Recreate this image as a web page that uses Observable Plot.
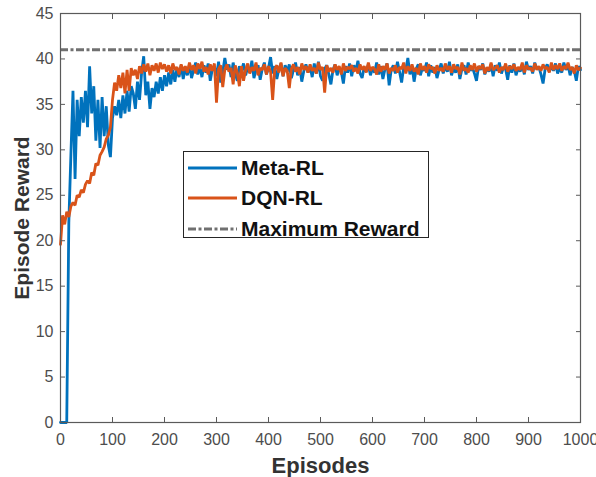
<!DOCTYPE html>
<html>
<head>
<meta charset="utf-8">
<script src="https://cdn.jsdelivr.net/npm/d3@7"></script>
<script src="https://cdn.jsdelivr.net/npm/@observablehq/plot@0.6"></script>
<style>
  body { margin: 0; background: #fff; }
  #chart { position: relative; width: 596px; height: 477px; }
  .legend {
    position: absolute; left: 183px; top: 151px; width: 246px; height: 87px;
    box-sizing: border-box; border: 1px solid #262626; background: #fff;
    font: bold 21px "Liberation Sans", Arial, sans-serif; color: #111;
  }
  .legend .row { position: absolute; left: 3px; height: 24px; display: flex; align-items: center; }
  .legend svg { width: 51px; height: 10px; margin-right: 3px; }
</style>
</head>
<body>
<div id="chart"></div>
<script>
// Episode axis: reward sampled every 4 episodes, 0..1000
const sampleStep = 4;
const xTicks = [0, 100, 200, 300, 400, 500, 600, 700, 800, 900, 1000];
const yTicks = [0, 5, 10, 15, 20, 25, 30, 35, 40, 45];
const maxReward = 41;

const seriesNames = ["Meta-RL", "DQN-RL", "Maximum Reward"];
const seriesColors = ["#0072BD", "#D95319", "#707070"];

const metaReward = [
  0, 0, 0, 0, 22.0, 29.5, 36.5, 26.8, 35.5, 31.5,
  35.8, 33.0, 36.5, 32.5, 39.2, 34.0, 37.0, 31.0, 35.5, 30.2,
  35.8, 31.5, 34.8, 30.5, 29.2, 33.5, 34.8, 33.8, 35.5, 33.5,
  36.0, 34.0, 36.5, 34.2, 37.0, 36.2, 34.5, 37.5, 35.5, 38.5,
  40.3, 36.0, 37.5, 34.5, 36.8, 35.8, 37.5, 36.2, 38.0, 36.5,
  38.2, 37.0, 38.5, 37.2, 38.8, 37.5, 39.0, 38.0, 39.3, 37.8,
  39.0, 38.2, 39.4, 37.9, 38.8, 39.6, 38.3, 39.1, 38.0, 39.3,
  38.5, 39.5, 37.6, 38.9, 39.2, 38.1, 39.7, 37.4, 38.6, 40.1,
  38.8, 39.4, 38.0, 39.6, 38.4, 37.6, 39.2, 38.7, 39.5, 38.2,
  39.1, 38.5, 39.8, 37.9, 38.8, 39.3, 37.7, 38.9, 39.6, 38.3,
  39.0, 40.2, 38.4, 39.2, 37.8, 38.9, 39.5, 38.1, 39.3, 38.6,
  39.4, 37.9, 38.8, 39.6, 38.2, 39.1, 37.5, 38.7, 39.4, 38.5,
  39.2, 38.0, 39.5, 38.4, 39.7, 38.1, 37.6, 38.9, 39.3, 38.3,
  37.2, 38.8, 39.4, 38.2, 39.0, 38.6, 37.3, 39.2, 38.5, 39.5,
  38.1, 39.3, 38.7, 39.8, 38.4, 37.9, 39.1, 38.6, 39.4, 38.2,
  39.0, 38.5, 39.6, 38.3, 39.2, 37.8, 38.9, 39.5, 37.1, 38.8,
  39.3, 38.4, 39.7, 38.6, 37.4, 39.1, 38.8, 40.1, 38.3, 39.2,
  37.5, 38.9, 39.4, 38.2, 39.0, 38.7, 39.6, 38.1, 39.3, 38.5,
  39.1, 37.9, 38.8, 39.5, 38.4, 39.2, 38.6, 39.7, 38.2, 39.0,
  38.5, 39.4, 37.8, 38.9, 39.3, 38.3, 39.6, 38.7, 39.1, 38.4,
  37.6, 39.2, 38.8, 39.5, 38.3, 39.0, 38.6, 39.4, 38.1, 39.3,
  38.7, 39.6, 38.4, 39.1, 38.9, 37.7, 39.3, 38.5, 39.5, 38.2,
  39.0, 38.6, 39.4, 38.3, 39.7, 38.8, 39.2, 38.4, 39.6, 38.9,
  39.1, 38.3, 37.3, 38.9, 39.4, 38.6, 39.2, 38.7, 39.5, 38.4,
  39.0, 38.5, 39.6, 38.8, 39.3, 38.2, 39.1, 38.7, 37.6, 39.2,
  38.8
];

const dqnReward = [
  19.6, 22.8, 21.8, 23.2, 22.6, 23.8, 24.2, 23.9, 25.0, 24.8,
  25.6, 25.3, 26.2, 26.6, 26.3, 27.5, 27.2, 28.5, 28.3, 29.4,
  29.8, 30.3, 31.2, 31.6, 32.5, 35.5, 37.4, 36.5, 38.2, 36.8,
  38.5, 36.2, 38.8, 36.5, 39.0, 38.2, 38.8, 37.8, 39.2, 38.4,
  39.4, 38.6, 39.5, 38.2, 39.3, 38.7, 39.5, 38.5, 39.6, 38.9,
  39.4, 38.6, 39.3, 38.4, 39.5, 38.8, 39.1, 38.3, 39.4, 38.7,
  39.2, 38.5, 39.6, 38.8, 39.3, 38.4, 39.5, 38.9, 39.7, 38.6,
  39.1, 38.3, 39.4, 38.7, 39.5, 35.2, 38.9, 39.3, 36.9, 38.8,
  39.4, 38.6, 39.0, 37.2, 39.3, 38.5, 37.0, 39.2, 37.6, 38.8,
  39.5, 38.4, 39.1, 38.7, 39.6, 38.2, 39.0, 38.8, 39.4, 38.3,
  39.2, 38.6, 35.5, 38.9, 39.3, 38.5, 39.6, 38.1, 39.0, 38.7,
  36.8, 38.9, 39.4, 38.6, 39.1, 38.3, 39.5, 38.8, 39.2, 38.5,
  39.4, 38.7, 39.0, 38.4, 39.6, 38.8, 39.1, 36.3, 39.3, 38.6,
  39.0, 38.5, 39.4, 38.8, 39.2, 38.3, 39.5, 38.7, 39.1, 38.9,
  39.3, 38.6, 39.0, 38.4, 39.4, 38.8, 39.2, 38.5, 39.6, 38.7,
  39.1, 38.9, 38.3, 39.4, 38.6, 39.2, 38.8, 39.5, 38.4, 39.0,
  38.7, 39.3, 38.5, 39.1, 38.9, 39.6, 38.4, 39.2, 38.7, 39.4,
  38.6, 39.0, 38.3, 39.5, 38.8, 39.2, 38.5, 39.4, 38.9, 39.1,
  38.4, 39.3, 38.7, 39.0, 38.6, 39.5, 38.8, 39.2, 38.5, 39.4,
  38.9, 39.1, 38.3, 39.6, 38.7, 39.0, 38.5, 39.3, 38.8, 39.5,
  38.6, 39.2, 38.9, 39.4, 38.4, 39.1, 38.7, 39.6, 38.8, 39.0,
  39.3, 38.5, 39.1, 38.8, 39.5, 38.6, 39.2, 38.9, 39.4, 38.7,
  39.1, 38.8, 39.6, 38.5, 39.3, 38.9, 39.0, 38.6, 39.5, 38.8,
  39.2, 38.7, 39.4, 38.9, 39.1, 38.5, 39.6, 38.8, 39.3, 38.9,
  39.5, 38.7, 39.2, 38.9, 39.6, 38.8, 39.1, 38.4, 39.3, 38.8,
  39.0
];

const rows = metaReward.map((m, i) => ({ episode: i * sampleStep, meta: m, dqn: dqnReward[i] }));
const dashDot = "8,2.5,3,2.5";
const font = '"Liberation Sans", Arial, Helvetica, sans-serif';

const chart = Plot.plot({
  width: 596,
  height: 477,
  marginLeft: 60,
  marginRight: 16,
  marginTop: 13,
  marginBottom: 55,
  x: { domain: [0, 1000] },
  y: { domain: [0, 45] },
  style: { fontFamily: font, fontSize: "16px", color: "#4d4d4d", background: "#fff", overflow: "visible" },
  marks: [
    Plot.line(rows, { x: "episode", y: "meta", stroke: seriesColors[0], strokeWidth: 2.8, strokeLinejoin: "miter" }),
    Plot.line(rows, { x: "episode", y: "dqn", stroke: seriesColors[1], strokeWidth: 2.8, strokeLinejoin: "miter" }),
    Plot.ruleY([maxReward], { stroke: seriesColors[2], strokeWidth: 3, strokeDasharray: dashDot }),
    Plot.frame({ stroke: "#5a5a5a", strokeWidth: 1.2 }),
    Plot.axisX({ ticks: xTicks, tickSize: -5, tickPadding: 16, tickFormat: d => String(d), label: null, stroke: "#5a5a5a" }),
    Plot.axisX({ anchor: "top", ticks: xTicks, tickSize: -5, tickFormat: () => "", label: null, stroke: "#5a5a5a" }),
    Plot.axisY({ ticks: yTicks, tickSize: -5, tickPadding: 12, label: null, stroke: "#5a5a5a" }),
    Plot.axisY({ anchor: "right", ticks: yTicks, tickSize: -5, tickFormat: () => "", label: null, stroke: "#5a5a5a" }),
    Plot.text(["Episodes"], { frameAnchor: "bottom", lineAnchor: "middle", textAnchor: "middle", dy: 43, fontSize: 22, fontWeight: "bold", fill: "#333" }),
    Plot.text(["Episode Reward"], { frameAnchor: "left", lineAnchor: "middle", textAnchor: "middle", dx: -38, rotate: -90, fontSize: 21, fontWeight: "bold", fill: "#333" })
  ]
});

const host = document.getElementById("chart");
host.appendChild(chart);

// Legend box drawn over the plot area
const legend = d3.select(host).append("div").attr("class", "legend");
const rowTops = [4, 34, 65];
seriesNames.forEach((name, i) => {
  const row = legend.append("div").attr("class", "row").style("top", rowTops[i] + "px");
  const svg = row.append("svg").attr("viewBox", "0 0 51 10");
  svg.append("line")
    .attr("x1", 1).attr("x2", 50).attr("y1", 5).attr("y2", 5)
    .attr("stroke", seriesColors[i]).attr("stroke-width", 3)
    .attr("stroke-dasharray", i === 2 ? dashDot : null);
  row.append("span").text(name);
});
</script>
</body>
</html>
